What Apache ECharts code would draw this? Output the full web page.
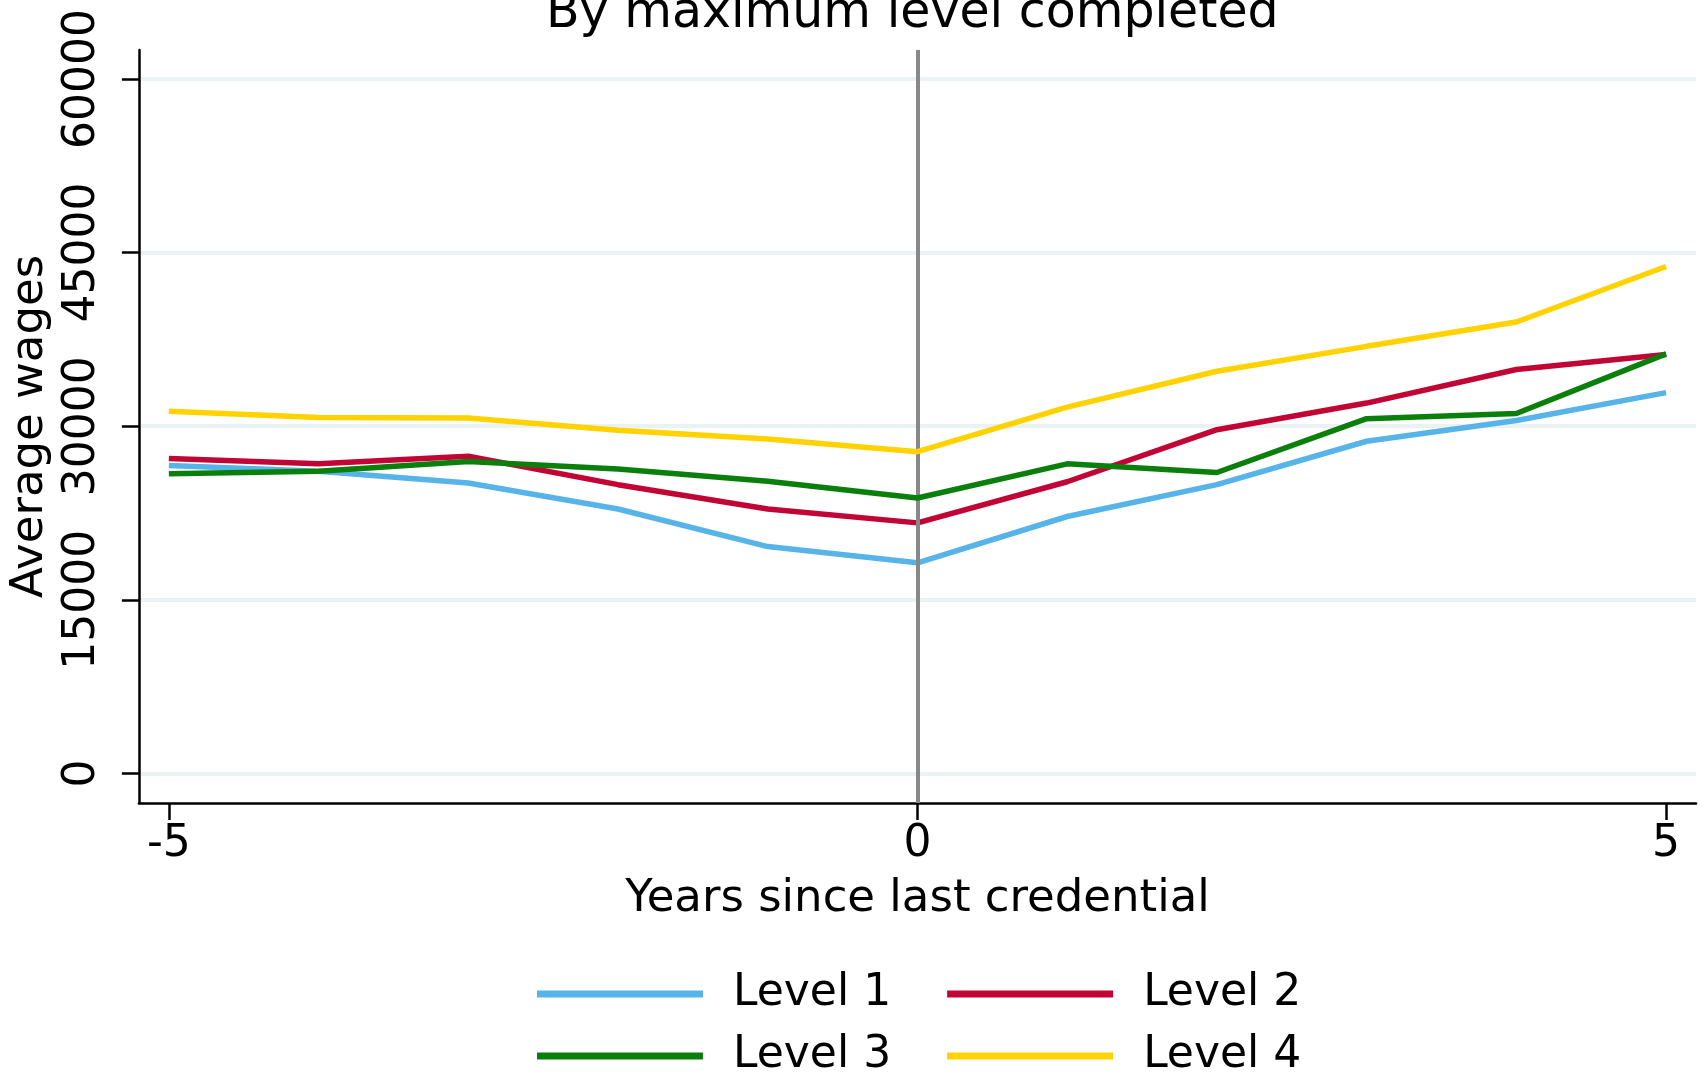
<!DOCTYPE html>
<html>
<head>
<meta charset="utf-8">
<script src="https://cdn.jsdelivr.net/npm/echarts@6/dist/echarts.min.js"></script>
<style>
  html, body { margin: 0; padding: 0; background: #fff; }
  #chart { width: 1703px; height: 1074px; }
</style>
</head>
<body>
<div id="chart"></div>
<script>
// years since last credential
const years = [-5, -4, -3, -2, -1, 0, 1, 2, 3, 4, 5];
// average wages by max level completed
const level1 = [26600, 26100, 25100, 22850, 19600, 18200, 22200, 24950, 28700, 30500, 32900];
const level2 = [27200, 26750, 27400, 24950, 22850, 21650, 25200, 29700, 32000, 34900, 36200];
const level3 = [25900, 26100, 26950, 26300, 25250, 23800, 26750, 26000, 30650, 31100, 36250];
const level4 = [31300, 30750, 30700, 29650, 28900, 27800, 31650, 34750, 36900, 39000, 43800];
const yTicks = [0, 15000, 30000, 45000, 60000];
const xTicks = [-5, 0, 5];
const names = ["Level 1", "Level 2", "Level 3", "Level 4"];
const colors = ["#56b4e9", "#c10534", "#0b7f0b", "#ffd200"];

const FONT = "DejaVu Sans";

function pairs(vals) {
  return years.map((y, i) => [y, vals[i]]);
}

let myChart = echarts.init(document.getElementById("chart"));

let series = [level1, level2, level3, level4].map((vals, i) => ({
  name: names[i],
  type: "line",
  data: pairs(vals),
  showSymbol: false,
  symbol: "none",
  lineStyle: { width: 5.5, color: colors[i] },
  itemStyle: { color: colors[i] },
  z: 3 + i,
}));

// vertical reference line at 0
series[0].markLine = {
  silent: true,
  symbol: "none",
  label: { show: false },
  data: [{ xAxis: 0, lineStyle: { color: "#888888", width: 4, type: "solid" } }],
};

function legendRow(items, top) {
  return {
    data: items,
    left: 532,
    top: top,
    icon: "rect",
    itemWidth: 166,
    itemHeight: 7,
    itemGap: 56,
    textStyle: { fontFamily: FONT, fontSize: 44, color: "#000", padding: [0, 0, 0, 25] },
  };
}

let option = {
  backgroundColor: "#ffffff",
  animation: false,
  title: {
    text: "By maximum level completed",
    left: 541,
    top: -15,
    textStyle: { fontFamily: FONT, fontSize: 49, fontWeight: "normal", color: "#000" },
  },
  legend: [legendRow(names.slice(0, 2), 967), legendRow(names.slice(2, 4), 1029)],
  grid: { left: 135, right: 7, top: 50, bottom: 271, containLabel: false },
  xAxis: {
    type: "value",
    min: -5.2,
    max: 5.2,
    name: "Years since last credential",
    nameLocation: "middle",
    nameGap: 74,
    nameTextStyle: { fontFamily: FONT, fontSize: 45, color: "#000" },
    axisLine: { show: true, onZero: false, lineStyle: { color: "#000", width: 2.5 } },
    axisTick: { show: true, length: 17, customValues: xTicks, lineStyle: { color: "#000", width: 2.5 } },
    axisLabel: { customValues: xTicks, margin: 20, fontFamily: FONT, fontSize: 44, color: "#000" },
    splitLine: { show: false },
  },
  yAxis: {
    type: "value",
    min: -2550,
    max: 62500,
    name: "Average wages",
    nameLocation: "middle",
    nameGap: 80,
    nameTextStyle: { fontFamily: FONT, fontSize: 45, color: "#000" },
    axisLine: { show: true, onZero: false, lineStyle: { color: "#000", width: 2.5 } },
    axisTick: { show: true, length: 17, customValues: yTicks, lineStyle: { color: "#000", width: 2.5 } },
    axisLabel: {
      customValues: yTicks,
      rotate: 90,
      margin: 34,
      fontFamily: FONT,
      fontSize: 44,
      color: "#000",
      formatter: (v) => String(v),
    },
    splitLine: { show: true, lineStyle: { color: "#eaf2f3", width: 4 } },
  },
  series: series,
};

myChart.setOption(option);
</script>
</body>
</html>
